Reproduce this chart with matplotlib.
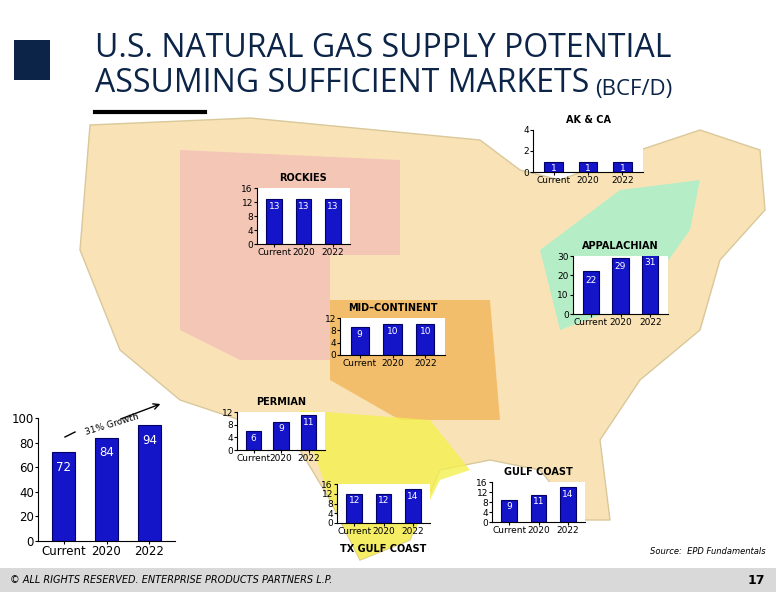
import matplotlib
matplotlib.use('Agg')
import matplotlib.pyplot as plt
from matplotlib.patches import Polygon, Rectangle

W, H = 776, 600

# Data (Bcf/d)
years = ['Current', '2020', '2022']
regions = {
    'AK & CA': [1, 1, 1],
    'ROCKIES': [13, 13, 13],
    'APPALACHIAN': [22, 29, 31],
    'MID\u2013CONTINENT': [9, 10, 10],
    'PERMIAN': [6, 9, 11],
    'TX GULF COAST': [12, 12, 14],
    'GULF COAST': [9, 11, 14],
}
total = [72, 84, 94]

# inset placement in pixels: x0, y0, x1, y1, ymax, tick step, title pos
layout = {
    'AK & CA': (533, 130, 643, 172, 4, 2, 'top'),
    'ROCKIES': (257, 188, 350, 244, 16, 4, 'top'),
    'APPALACHIAN': (573, 256, 668, 314, 30, 10, 'top'),
    'MID\u2013CONTINENT': (340, 318, 445, 355, 12, 4, 'top'),
    'PERMIAN': (237, 412, 325, 450, 12, 4, 'top'),
    'TX GULF COAST': (337, 484, 430, 523, 16, 4, 'bottom'),
    'GULF COAST': (492, 482, 585, 522, 16, 4, 'top'),
}

BAR = '#1414c8'
EDGE = '#000066'

fig = plt.figure(figsize=(W / 100, H / 100), dpi=100)
bg = fig.add_axes([0, 0, 1, 1])
bg.set_xlim(0, W)
bg.set_ylim(H, 0)
bg.axis('off')

# rough map backdrop
us = [(90, 125), (250, 118), (480, 140), (520, 170), (560, 180), (640, 150),
      (700, 130), (760, 150), (765, 210), (720, 260), (700, 330), (640, 380),
      (600, 440), (610, 520), (580, 520), (540, 470), (490, 460), (440, 470),
      (410, 540), (360, 560), (330, 500), (300, 450), (240, 420), (180, 400),
      (120, 350), (80, 250)]
bg.add_patch(Polygon(us, closed=True, fc='#f9e3b6', ec='#d9c89a', lw=1))
bg.add_patch(Polygon([(180, 150), (400, 160), (400, 255), (330, 255), (330, 360),
                      (240, 360), (180, 330)], closed=True, fc='#f4c6b6', ec='none'))
bg.add_patch(Polygon([(330, 300), (490, 300), (500, 420), (400, 420), (330, 380)],
                     closed=True, fc='#f2b55a', ec='none', alpha=0.8))
bg.add_patch(Polygon([(300, 410), (430, 420), (470, 470), (440, 480), (410, 540),
                      (360, 560), (330, 500)], closed=True, fc='#f4f050', ec='none', alpha=0.8))
bg.add_patch(Polygon([(540, 250), (620, 190), (700, 180), (690, 230), (640, 300),
                      (560, 330)], closed=True, fc='#aef0c8', ec='none', alpha=0.9))

# header
bg.add_patch(Rectangle((14, 40), 36, 40, fc='#0b2447', ec='none'))
bg.text(95, 65, 'U.S. NATURAL GAS SUPPLY POTENTIAL', fontsize=23, color='#0b2447',
        fontfamily='Open Sans', va='bottom')
t2 = bg.text(95, 100, 'ASSUMING SUFFICIENT MARKETS', fontsize=23, color='#0b2447',
             fontfamily='Open Sans', va='bottom')
fig.canvas.draw()
ext = t2.get_window_extent()
bg.text(ext.x1 + 6, 100, '(BCF/D)', fontsize=16, color='#0b2447',
        fontfamily='Open Sans', va='bottom')
bg.plot([95, 205], [112, 112], color='black', lw=3)

# footer
bg.add_patch(Rectangle((0, 568), W, 24, fc='#d9d9d9', ec='none'))
bg.text(10, 580, '\u00a9 ALL RIGHTS RESERVED. ENTERPRISE PRODUCTS PARTNERS L.P.',
        fontsize=7, style='italic', va='center')
bg.text(765, 580, '17', fontsize=9, fontweight='bold', ha='right', va='center')
bg.text(766, 554, 'Source:  EPD Fundamentals', fontsize=6, style='italic', ha='right')


def inset(x0, y0, x1, y1, vals, ymax, step, fs):
    ax = fig.add_axes([x0 / W, 1 - y1 / H, (x1 - x0) / W, (y1 - y0) / H])
    bars = ax.bar(range(3), vals, width=0.55, color=BAR, edgecolor=EDGE, lw=0.8)
    for b, v in zip(bars, vals):
        ax.text(b.get_x() + b.get_width() / 2, v - ymax * 0.07, str(v), ha='center',
                va='top', color='white', fontsize=fs)
    ax.set_ylim(0, ymax)
    ax.set_yticks(range(0, ymax + 1, step))
    ax.set_xlim(-0.6, 2.6)
    ax.set_xticks(range(3))
    ax.set_xticklabels(years)
    ax.tick_params(labelsize=fs, length=2, pad=1)
    ax.patch.set_facecolor('white')
    for s in ['top', 'right']:
        ax.spines[s].set_visible(False)
    return ax


for name, vals in regions.items():
    x0, y0, x1, y1, ymax, step, pos = layout[name]
    inset(x0, y0, x1, y1, vals, ymax, step, 6.5)
    ty = y0 - 10 if pos == 'top' else y1 + 26
    bg.text((x0 + x1) / 2, ty, name, ha='center', va='center', fontsize=7,
            fontweight='bold')

ax = inset(38, 418, 175, 541, total, 100, 20, 8.5)
ax.tick_params(labelsize=8.5)
ax.annotate('', xy=(163, 403), xytext=(118, 420), xycoords=bg.transData,
            textcoords=bg.transData,
            arrowprops=dict(arrowstyle='->', color='black', lw=1), annotation_clip=False)
ax.text(112, 424, '31% Growth', fontsize=6.5, rotation=17, ha='center', va='center',
        transform=bg.transData, clip_on=False)
ax.plot([65, 75], [437, 432], color='black', lw=1, transform=bg.transData, clip_on=False)

fig.savefig('out.png', dpi=100)
